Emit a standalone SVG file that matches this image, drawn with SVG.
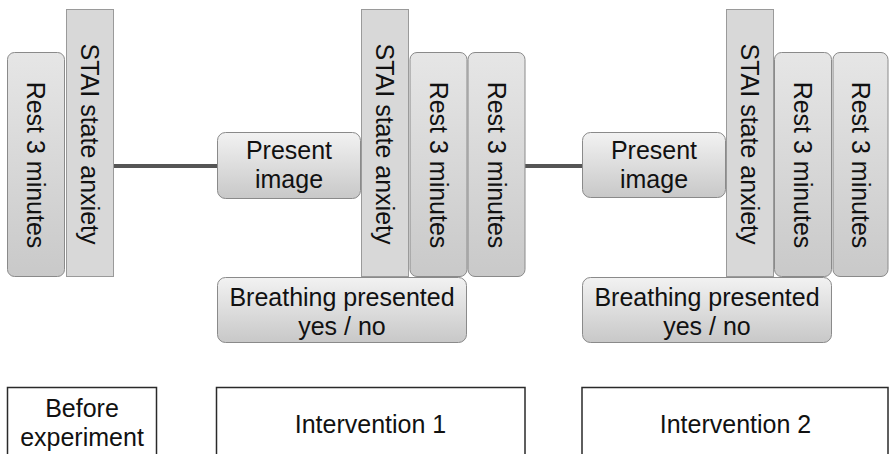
<svg xmlns="http://www.w3.org/2000/svg" width="889" height="454" viewBox="0 0 889 454">
<defs>
<linearGradient id="gv" x1="0" y1="0" x2="0" y2="1">
<stop offset="0" stop-color="#e6e6e6"/>
<stop offset="1" stop-color="#c9c9c9"/>
</linearGradient>
<linearGradient id="gh" x1="0" y1="0" x2="0" y2="1">
<stop offset="0" stop-color="#f2f2f2"/>
<stop offset="1" stop-color="#c8c8c8"/>
</linearGradient>
</defs>
<style>
text{font-family:"Liberation Sans",Arial,sans-serif;font-size:25px;fill:#111;text-anchor:middle}
.rest{fill:url(#gv);stroke:#8a8a8a;stroke-width:1}
.stai{fill:#d8d8d8;stroke:#9a9a9a;stroke-width:1}
.box{fill:url(#gh);stroke:#8a8a8a;stroke-width:1}
.phase{fill:#fff;stroke:#2a2a2a;stroke-width:1.5}
.conn{stroke:#555;stroke-width:4;fill:none}
</style>
<rect width="889" height="454" fill="#fff"/>
<g id="connectors">
<line class="conn" x1="114" y1="166" x2="218" y2="166"/>
<line class="conn" x1="525" y1="166" x2="583" y2="166"/>
</g>
<g id="rest0">
<rect class="rest" x="7.5" y="52.5" width="57" height="224" rx="7"/>
<text transform="translate(36,165) rotate(90)" dy="0.35em">Rest 3 minutes</text>
</g>
<g id="stai0">
<rect class="stai" x="66.5" y="9.5" width="47" height="267"/>
<text transform="translate(90,144) rotate(90)" dy="0.35em">STAI state anxiety</text>
</g>
<g id="present1">
<rect class="box" x="217.5" y="132.5" width="143" height="66" rx="8"/>
<text x="289" y="159">Present</text>
<text x="289" y="188">image</text>
</g>
<g id="stai1">
<rect class="stai" x="361.5" y="9.5" width="47" height="267"/>
<text transform="translate(385,144) rotate(90)" dy="0.35em">STAI state anxiety</text>
</g>
<g id="rest1a">
<rect class="rest" x="410" y="52.5" width="57" height="224" rx="7"/>
<text transform="translate(438.5,165) rotate(90)" dy="0.35em">Rest 3 minutes</text>
</g>
<g id="rest1b">
<rect class="rest" x="468" y="52.5" width="57" height="224" rx="7"/>
<text transform="translate(496.5,165) rotate(90)" dy="0.35em">Rest 3 minutes</text>
</g>
<g id="breath1">
<rect class="box" x="217.5" y="277.5" width="249" height="65" rx="8"/>
<text x="342" y="306">Breathing presented</text>
<text x="342" y="335">yes / no</text>
</g>
<g id="present2">
<rect class="box" x="582.5" y="132.5" width="143" height="65" rx="8"/>
<text x="654" y="159">Present</text>
<text x="654" y="188">image</text>
</g>
<g id="stai2">
<rect class="stai" x="726.5" y="9.5" width="47" height="267"/>
<text transform="translate(750,144) rotate(90)" dy="0.35em">STAI state anxiety</text>
</g>
<g id="rest2a">
<rect class="rest" x="774.5" y="52.5" width="57" height="224" rx="7"/>
<text transform="translate(803,165) rotate(90)" dy="0.35em">Rest 3 minutes</text>
</g>
<g id="rest2b">
<rect class="rest" x="833" y="52.5" width="55" height="224" rx="7"/>
<text transform="translate(860.5,165) rotate(90)" dy="0.35em">Rest 3 minutes</text>
</g>
<g id="breath2">
<rect class="box" x="582.5" y="277.5" width="249" height="65" rx="8"/>
<text x="707" y="306">Breathing presented</text>
<text x="707" y="335">yes / no</text>
</g>
<g id="before">
<rect class="phase" x="7.5" y="387.5" width="149" height="70"/>
<text x="82" y="417">Before</text>
<text x="82" y="446">experiment</text>
</g>
<g id="intervention1">
<rect class="phase" x="216.5" y="387.5" width="308.5" height="70"/>
<text x="370.5" y="433">Intervention 1</text>
</g>
<g id="intervention2">
<rect class="phase" x="582" y="387.5" width="306" height="70"/>
<text x="735.5" y="433">Intervention 2</text>
</g>
</svg>
